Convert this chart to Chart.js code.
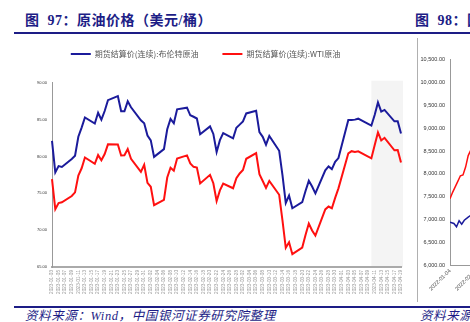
<!DOCTYPE html>
<html>
<head>
<meta charset="utf-8">
<script src="https://cdn.jsdelivr.net/npm/chart.js@4.4.0/dist/chart.umd.min.js"></script>
<style>
html, body { margin: 0; padding: 0; background: #fff; width: 470px; height: 322px; overflow: hidden; position: relative; font-family: "Noto Sans CJK SC", sans-serif; }
.title { position: absolute; top: 14px; font-family: "Liberation Serif", "Noto Sans CJK SC", serif; font-size: 14px; line-height: 14px; font-weight: bold; color: #1d1d86; white-space: nowrap; letter-spacing: 0.5px; }
.rule { position: absolute; left: 14px; right: 0; height: 2px; background: #1d1d86; }
.source { position: absolute; top: 310px; font-family: "Liberation Serif", "Noto Sans CJK SC", serif; font-size: 12.5px; line-height: 13px; font-style: italic; color: #1d1d86; white-space: nowrap; letter-spacing: 0.6px; }
.vline { position: absolute; left: 417px; top: 38px; width: 1px; height: 264px; background: #b0b0b0; }
#left { position: absolute; left: 0; top: 26px; }
#rightBox { position: absolute; left: 418px; top: 45px; width: 52px; height: 256px; overflow: hidden; }
</style>
</head>
<body>
<div class="title" style="left:25px">图&nbsp; 97：原油价格（美元/桶）</div>
<div class="title" style="left:415px">图&nbsp; 98：国内成品油价格</div>
<div class="rule" style="top:32px"></div>
<div class="vline"></div>
<canvas id="left" width="414" height="276"></canvas>
<div id="rightBox"><canvas id="right" width="170" height="252"></canvas></div>
<div class="rule" style="top:306px"></div>
<div class="source" style="left:25px">资料来源：Wind，中国银河证券研究院整理</div>
<div class="source" style="left:420px">资料来源：Wind</div>
<script>
// 图97 data: daily settlement, trading days only
const firstDay = '2023-01-03';
const lastDay = '2023-04-19';
const shadeFrom = '2023-04-10';

const tradeDates = [
  '2023-01-03','2023-01-04','2023-01-05','2023-01-06','2023-01-09','2023-01-10','2023-01-11','2023-01-12','2023-01-13',
  '2023-01-16','2023-01-17','2023-01-18','2023-01-19','2023-01-20','2023-01-23','2023-01-24','2023-01-25','2023-01-26','2023-01-27',
  '2023-01-30','2023-01-31','2023-02-01','2023-02-02','2023-02-03','2023-02-06','2023-02-07','2023-02-08','2023-02-09','2023-02-10',
  '2023-02-13','2023-02-14','2023-02-15','2023-02-16','2023-02-17','2023-02-20','2023-02-21','2023-02-22','2023-02-23','2023-02-24',
  '2023-02-27','2023-02-28','2023-03-01','2023-03-02','2023-03-03','2023-03-06','2023-03-07','2023-03-08','2023-03-09','2023-03-10',
  '2023-03-13','2023-03-14','2023-03-15','2023-03-16','2023-03-17','2023-03-20','2023-03-21','2023-03-22','2023-03-23','2023-03-24',
  '2023-03-27','2023-03-28','2023-03-29','2023-03-30','2023-03-31','2023-04-03','2023-04-04','2023-04-05','2023-04-06',
  '2023-04-10','2023-04-11','2023-04-12','2023-04-13','2023-04-14','2023-04-17','2023-04-18','2023-04-19'
];
const brent = [
  82.10, 77.84, 78.69, 78.57, 79.65, 80.10, 82.67, 83.91, 85.28,
  84.46, 85.92, 84.98, 86.16, 87.63, 88.19, 86.13, 86.12, 87.47, 86.66,
  84.90, 84.49, 82.84, 82.17, 79.94, 80.99, 83.69, 85.09, 84.50, 86.39,
  86.61, 85.58, 85.38, 85.14, 83.00, 84.07, 83.05, 80.60, 82.21, 83.16,
  82.45, 83.89, 84.31, 84.75, 85.83, 86.18, 83.29, 82.66, 81.59, 82.78,
  80.77, 77.45, 73.69, 74.70, 72.97, 73.79, 75.32, 76.69, 75.91, 74.99,
  78.12, 78.65, 78.28, 79.27, 79.77, 84.93, 84.94, 84.99, 85.12,
  84.18, 85.61, 87.33, 86.09, 86.31, 84.76, 84.77, 83.12
];
const wti = [
  76.93, 72.84, 73.67, 73.77, 74.63, 75.12, 77.41, 78.39, 79.86,
  79.00, 80.18, 79.48, 80.33, 81.64, 81.62, 80.13, 80.15, 81.01, 79.68,
  77.90, 78.87, 76.41, 75.88, 73.39, 74.11, 77.14, 78.47, 78.06, 79.72,
  80.14, 79.06, 78.59, 78.49, 76.34, 77.50, 76.36, 73.95, 75.39, 76.32,
  75.68, 77.05, 77.69, 78.16, 79.68, 80.46, 77.58, 76.66, 75.72, 76.68,
  74.80, 71.33, 67.61, 68.35, 66.74, 67.64, 69.33, 70.90, 69.96, 69.26,
  72.81, 73.20, 72.97, 74.37, 75.67, 80.42, 80.71, 80.61, 80.70,
  79.74, 81.53, 83.26, 82.16, 82.52, 80.83, 80.86, 79.16
];
const seriesNames = ['期货结算价(连续):布伦特原油', '期货结算价(连续):WTI原油'];
const yMin = 65, yMax = 90, yStep = 5;

// 图98 (only its left edge is in view)
const rightTicks = ['2022-01-04', '2022-02-08', '2022-03-08', '2022-04-08', '2022-05-09', '2022-06-08'];
const rightRedX = [0, 2, 4, 6, 8, 10, 12, 14, 16];
const rightRed = [7460, 7600, 7720, 7840, 7960, 7980, 8150, 8400, 8520];
const rightBlueX = [0, 3, 5, 7, 9, 11, 14, 16];
const rightBlue = [6950, 6920, 6850, 6980, 6905, 6990, 7060, 7100];

// calendar axis, so weekends leave gaps the line spans
const dayLabels = [];
for (let d = new Date(firstDay + 'T00:00:00Z'); d <= new Date(lastDay + 'T00:00:00Z'); d.setUTCDate(d.getUTCDate() + 1)) {
  dayLabels.push(d.toISOString().slice(0, 10));
}

const shade = {
  id: 'shade',
  beforeDraw(chart) {
    const {ctx, chartArea, scales: {x}} = chart;
    const x0 = x.getPixelForValue(dayLabels.indexOf(shadeFrom));
    ctx.save();
    ctx.fillStyle = '#f4f4f4';
    ctx.fillRect(x0, chartArea.top - 2, chartArea.right + 2 - x0, chartArea.bottom - chartArea.top + 2);
    ctx.restore();
  }
};
const legendGap = {
  id: 'legendGap',
  beforeInit(chart) {
    const fit = chart.legend.fit;
    chart.legend.fit = function () { fit.call(this); this.height += 14.7; };
  }
};

new Chart(document.getElementById('left'), {
  type: 'line',
  data: {
    labels: dayLabels,
    datasets: [
      { label: seriesNames[0], data: tradeDates.map((t, i) => ({x: t, y: brent[i]})), borderColor: '#1b1b9b', backgroundColor: '#1b1b9b', borderWidth: 2, pointRadius: 0, tension: 0 },
      { label: seriesNames[1], data: tradeDates.map((t, i) => ({x: t, y: wti[i]})), borderColor: '#ff1010', backgroundColor: '#ff1010', borderWidth: 2, pointRadius: 0, tension: 0 }
    ]
  },
  options: {
    responsive: false,
    animation: false,
    devicePixelRatio: 1,
    layout: { padding: { left: 10, right: 13, top: 0, bottom: 0 } },
    plugins: {
      legend: {
        labels: {
          font: { family: '"Noto Sans CJK SC"', size: 8 },
          color: '#555',
          boxWidth: 20,
          boxHeight: 2,
          padding: 24,
          generateLabels: chart => chart.data.datasets.map((ds, i) => ({
            text: ds.label, fillStyle: ds.borderColor, strokeStyle: ds.borderColor, lineWidth: 0, datasetIndex: i, hidden: false, fontColor: '#555'
          }))
        }
      },
      tooltip: { enabled: false }
    },
    scales: {
      x: {
        type: 'category',
        grid: { display: false, drawTicks: false },
        border: { display: true, color: '#aaa', width: 2 },
        afterFit(scale) { scale.height = 35; },
        ticks: {
          autoSkip: false, minRotation: 90, maxRotation: 90, padding: 3,
          font: { family: '"Liberation Sans"', size: 4.7 }, color: '#999',
          callback: (v, i) => (i % 2 === 0 ? dayLabels[i] : '')
        }
      },
      y: {
        min: yMin, max: yMax,
        grid: { display: false, drawTicks: false },
        border: { display: true, color: '#999', width: 1 },
        afterFit(scale) { scale.width = 42; },
        ticks: { stepSize: yStep, padding: 5, font: { family: '"Liberation Sans"', size: 4 }, color: '#333', callback: v => v.toFixed(2) }
      }
    }
  },
  plugins: [shade, legendGap]
});

new Chart(document.getElementById('right'), {
  type: 'line',
  data: {
    datasets: [
      { data: rightRedX.map((x, i) => ({x, y: rightRed[i]})), borderColor: '#ff1010', borderWidth: 1.5, pointRadius: 0, tension: 0 },
      { data: rightBlueX.map((x, i) => ({x, y: rightBlue[i]})), borderColor: '#1b1b9b', borderWidth: 1.5, pointRadius: 0, tension: 0 }
    ]
  },
  options: {
    responsive: false,
    animation: false,
    devicePixelRatio: 1,
    layout: { padding: { left: 0, right: 8, top: 14.3, bottom: 0 } },
    plugins: { legend: { display: false }, tooltip: { enabled: false } },
    scales: {
      x: {
        type: 'linear', min: 0, max: 100,
        grid: { display: false, drawTicks: false },
        border: { display: true, color: '#999', width: 1 },
        afterFit(scale) { scale.height = 31.3; },
        ticks: {
          stepSize: 20, minRotation: 45, maxRotation: 45, padding: 2,
          font: { family: '"Liberation Sans"', size: 5.5 }, color: '#444',
          callback: v => rightTicks[v / 20] || ''
        }
      },
      y: {
        min: 6000, max: 10500,
        grid: { display: false, drawTicks: false },
        border: { display: true, color: '#999', width: 1 },
        afterFit(scale) { scale.width = 32; },
        ticks: { stepSize: 500, padding: 5, font: { family: '"Liberation Sans"', size: 5.5 }, color: '#333',
          callback: v => v.toLocaleString('en-US', { minimumFractionDigits: 2, maximumFractionDigits: 2 }) }
      }
    }
  }
});
</script>
</body>
</html>
